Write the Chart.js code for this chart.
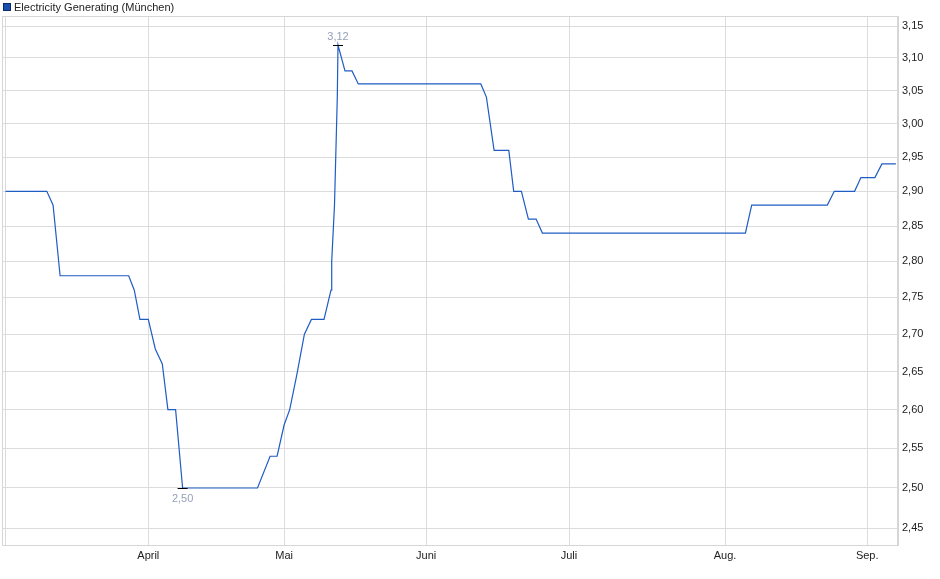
<!DOCTYPE html>
<html>
<head>
<meta charset="utf-8">
<script src="https://cdn.jsdelivr.net/npm/chart.js@4.4.1/dist/chart.umd.min.js"></script>
<style>
html,body{margin:0;padding:0;background:#fff;}
#wrap{width:940px;height:579px;position:relative;}
</style>
</head>
<body>
<div id="wrap"><canvas id="c" width="940" height="579"></canvas></div>
<script>
// ---- data (x = trading-day index, y = price in EUR) ----
const seriesName = 'Electricity Generating (München)';
const dayIndex = [0, 5.9, 6.8, 7.8, 17.6, 18.4, 19.2, 20.4, 21.4, 22.4, 23.2, 24.3, 25.3, 36.0, 37.8, 38.8, 39.8, 40.6, 41.6, 42.7, 43.7, 45.5, 46.5, 46.6, 47.0, 47.4, 47.5, 48.5, 49.5, 50.4, 67.9, 68.7, 69.8, 71.9, 72.6, 73.7, 74.7, 75.8, 76.7, 105.7, 106.6, 117.4, 118.4, 121.3, 122.2, 124.2, 125.2, 127.2];
const prices   = [2.90, 2.90, 2.88, 2.78, 2.78, 2.76, 2.72, 2.72, 2.68, 2.66, 2.60, 2.60, 2.50, 2.50, 2.54, 2.54, 2.58, 2.60, 2.645, 2.70, 2.72, 2.72, 2.76, 2.80, 2.88, 3.04, 3.12, 3.08, 3.08, 3.06, 3.06, 3.04, 2.96, 2.96, 2.90, 2.90, 2.86, 2.86, 2.84, 2.84, 2.88, 2.88, 2.90, 2.90, 2.92, 2.92, 2.94, 2.94];
const monthTickPos = [0, 20.4, 39.8, 60.1, 80.5, 102.8, 123.1];
const monthLabels  = ['', 'April', 'Mai', 'Juni', 'Juli', 'Aug.', 'Sep.'];
const yTickValues  = [2.45, 2.50, 2.55, 2.60, 2.65, 2.70, 2.75, 2.80, 2.85, 2.90, 2.95, 3.00, 3.05, 3.10, 3.15];
const xRange = [-0.5, 127.5];
const yRange = [2.4297, 3.1658];

const FONT = '"Liberation Sans", Arial, sans-serif';
const fmt = v => v.toFixed(2).replace('.', ',');

const framePlugin = {
  id: 'frame',
  beforeDatasetsDraw(chart) {
    const {ctx, chartArea: a} = chart;
    ctx.save();
    ctx.strokeStyle = '#d6d6d6';
    ctx.lineWidth = 1;
    ctx.strokeRect(Math.round(a.left) + 0.5, Math.round(a.top) + 0.5, Math.round(a.right - a.left) - 1, Math.round(a.bottom - a.top));
    ctx.restore();
  },
  afterDraw(chart) {
    const {ctx} = chart;
    ctx.save();
    // legend / title
    ctx.fillStyle = '#1a4fb0';
    ctx.fillRect(3, 3, 8, 8);
    ctx.strokeStyle = '#0b2a66';
    ctx.lineWidth = 1;
    ctx.strokeRect(3.5, 3.5, 7, 7);
    ctx.fillStyle = '#222';
    ctx.font = '11px ' + FONT;
    ctx.textBaseline = 'middle';
    ctx.textAlign = 'left';
    ctx.fillText(seriesName, 14, 7.5);
    // high / low markers
    const xs = chart.scales.x, ys = chart.scales.y;
    let hi = 0, lo = 0;
    prices.forEach((p, i) => { if (p > prices[hi]) hi = i; if (p < prices[lo]) lo = i; });
    const mark = (i, above) => {
      const px = xs.getPixelForValue(dayIndex[i]);
      const py = Math.round(ys.getPixelForValue(prices[i])) + 0.5;
      ctx.strokeStyle = '#000';
      ctx.beginPath();
      ctx.moveTo(px - 5, py); ctx.lineTo(px + 5, py);
      ctx.stroke();
      ctx.fillStyle = '#95a1b8';
      ctx.textAlign = 'center';
      ctx.textBaseline = 'middle';
      ctx.fillText(fmt(prices[i]), px, above ? py - 9 : py + 10);
    };
    mark(hi, true);
    mark(lo, false);
    ctx.restore();
  }
};

new Chart(document.getElementById('c'), {
  type: 'line',
  data: {
    datasets: [{
      label: seriesName,
      data: dayIndex.map((d, i) => ({x: d, y: prices[i]})),
      borderColor: '#1f5cc4',
      borderWidth: 1.2,
      pointRadius: 0,
      tension: 0,
      fill: false
    }]
  },
  options: {
    responsive: false,
    devicePixelRatio: 1,
    animation: false,
    layout: {padding: {top: 16, left: 2, right: 0, bottom: 0}},
    plugins: {legend: {display: false}, tooltip: {enabled: false}},
    scales: {
      x: {
        type: 'linear',
        min: xRange[0],
        max: xRange[1],
        afterBuildTicks: s => { s.ticks = monthTickPos.map(v => ({value: v})); },
        afterFit: s => { s.height = 34; },
        grid: {color: '#dcdcdc', drawTicks: false, lineWidth: 1},
        border: {display: true, color: '#d6d6d6'},
        ticks: {
          autoSkip: false, maxRotation: 0, padding: 4,
          color: '#222', font: {family: FONT, size: 11},
          callback: (v, i) => monthLabels[i]
        }
      },
      y: {
        type: 'logarithmic',
        position: 'right',
        min: yRange[0],
        max: yRange[1],
        afterBuildTicks: s => { s.ticks = yTickValues.map(v => ({value: v})); },
        afterFit: s => { s.width = 42; },
        grid: {color: '#dcdcdc', drawTicks: false, lineWidth: 1},
        border: {display: true, color: '#d6d6d6'},
        ticks: {
          padding: 4,
          color: '#222', font: {family: FONT, size: 11},
          callback: v => fmt(v)
        }
      }
    }
  },
  plugins: [framePlugin]
});
</script>
</body>
</html>
